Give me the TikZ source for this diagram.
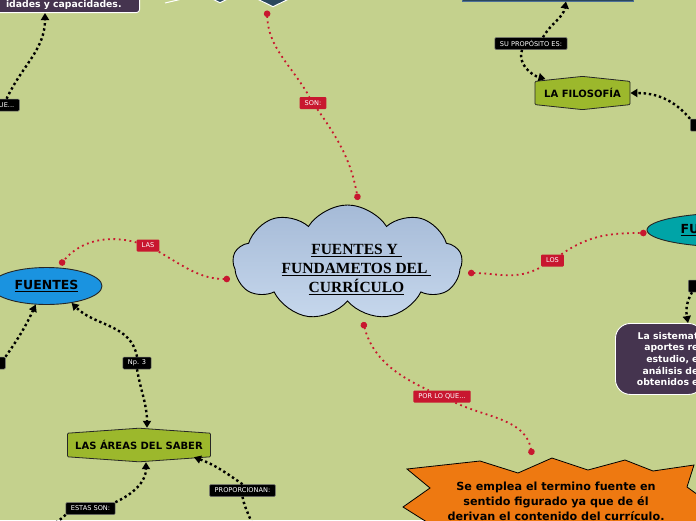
\documentclass[tikz,border=0pt]{standalone}
\usepackage{fontspec}
\setmainfont{Liberation Serif}
\setsansfont{DejaVu Sans}
\usepackage{tikz}
\usetikzlibrary{arrows.meta,calc,shapes.geometric,shapes.symbols}
\definecolor{paper}{HTML}{C4D18D}
\definecolor{crimson}{HTML}{C8172F}
\definecolor{plum}{HTML}{45344F}
\definecolor{olive}{HTML}{9CB82C}
\definecolor{slate}{HTML}{2A475D}
\definecolor{slateline}{HTML}{4C6E96}
\definecolor{sky}{HTML}{1A93E0}
\definecolor{tealish}{HTML}{00A4A7}
\definecolor{orangish}{HTML}{EE7911}
\definecolor{cloudtop}{HTML}{A5BAD7}
\definecolor{cloudbot}{HTML}{C6D7EC}
\tikzset{
  tag/.style={rounded corners=1pt,inner xsep=5pt,inner ysep=0pt,minimum height=12pt,text=white,font=\sffamily\fontsize{6.6}{7}\selectfont},
  blacktag/.style={tag,fill=black,draw=black!55,line width=.5pt},
  redtag/.style={tag,fill=crimson},
  hexnode/.style={signal,signal to=north and south,signal pointer angle=172,draw=black!85,fill=olive,line width=.8pt,rounded corners=1pt,font=\sffamily\bfseries\fontsize{10}{12}\selectfont},
  bubble/.style={fill=plum,draw=white,line width=.9pt,text=white,font=\sffamily\bfseries\fontsize{9.3}{11.7}\selectfont},
  oval/.style={ellipse,draw=black!85,line width=.9pt,font=\sffamily\bfseries\fontsize{12.5}{14}\selectfont},
  gem/.style={diamond,fill=slate,draw=white,line width=1pt,inner sep=0pt},
  link/.style={line width=2.4pt,dash pattern=on 2.4pt off 2.8pt,-{Triangle[length=7pt,width=8pt]}},
  redlink/.style={crimson,line width=1.8pt,dash pattern=on 1.8pt off 3.6pt},
  dotstart/.style={redlink,{Circle[length=6.5pt]}-},
  dotend/.style={redlink,-{Circle[length=6.5pt]}},
}

\begin{document}
\begin{tikzpicture}[x=1pt,y=1pt]
  \useasboundingbox (0,0) rectangle (696,-520);
  \clip (0,0) rectangle (696,-520);
  \fill[paper] (0,0) rectangle (696,-520);
  \draw[white,line width=1pt] (165,-3) -- (182,1);
  \node[gem,minimum width=120pt,minimum height=60pt] (gemb) at (220,27) {};
  \node[gem,minimum width=120pt,minimum height=60pt] (gema) at (273,23) {};
  \node[fill=slate,draw=slateline,line width=1pt,anchor=south,minimum width=171pt,minimum height=40pt] (fin) at (548,-1.5) {};
  \node[bubble,rounded corners=3pt,anchor=south east,inner xsep=18pt,inner ysep=3pt,text height=30pt,text depth=2pt] (habil) at (140,-13) {idades y capacidades.};

  \node[cloud,cloud puffs=9,cloud puff arc=115,cloud ignores aspect,draw=black,line width=.9pt,top color=cloudtop,bottom color=cloudbot,minimum width=229pt,minimum height=115pt,
    label={[font=\bfseries\fontsize{15.5}{19}\selectfont,align=center,xshift=9pt,yshift=-7pt]center:{\underline{FUENTES Y\ }\\\underline{FUNDAMETOS DEL\ }\\\underline{CURRÍCULO}}}] (cur) at (347.5,-262.5) {};

  \node[oval,fill=sky,minimum width=111pt,minimum height=37pt] (fuentes) at (46.5,-286) {\underline{FUENTES}};
  \node[oval,fill=tealish,minimum width=170pt,minimum height=34pt] (fund) at (732,-230) {\underline{FU}\rule{84pt}{0pt}};
  \node[hexnode,minimum width=143pt,minimum height=33pt] (areas) at (139,-445) {LAS ÁREAS DEL SABER};
  \node[hexnode,minimum width=95pt,minimum height=32pt,signal pointer angle=168] (filo) at (582.5,-93) {LA FILOSOFÍA};
  \node[bubble,rounded corners=15pt,anchor=north west,align=right,text width=78pt,inner xsep=5pt,minimum height=71pt] (sistem) at (615,-323) {La sistemat\\aportes re\\estudio, e\\análisis de\\obtenidos e};

  \filldraw[fill=orangish,draw=black,line width=.8pt] (407,-469) -- (480,-461) -- (518,-473) -- (552,-458) -- (588,-470) -- (625,-460) -- (653,-471) -- (694,-465) -- (687,-487) -- (705,-500) -- (705,-540) -- (430,-540) -- (430,-524) -- (403,-507) -- (430,-488) -- cycle;
  \node[font=\sffamily\bfseries\fontsize{11.2}{15}\selectfont,align=center] (emplea) at (556,-501.5) {Se emplea el termino fuente en\\sentido figurado ya que de él\\derivan el contenido del currículo.};
  \coordinate (burst) at (532,-455);
  \coordinate (offa) at (45,-534);
  \coordinate (offb) at (254,-534);

  \node[redtag] (son) at (313,-103) {SON:};
  \node[redtag] (las) at (148,-245.5) {LAS};
  \node[redtag] (los) at (552.5,-260.5) {LOS};
  \node[redtag] (porlo) at (442,-396.5) {POR LO QUE...};
  \node[blacktag,anchor=east] (que) at (19.5,-105) {UE...};
  \node[blacktag,anchor=east,minimum width=20pt] (otro) at (5.5,-363) {};
  \node[blacktag] (np3) at (137,-363) {Np. 3};
  \node[blacktag] (estas) at (90.5,-508.5) {ESTAS SON:};
  \node[blacktag] (propor) at (242.5,-490.5) {PROPORCIONAN:};
  \node[blacktag] (suprop) at (531,-43.5) {SU PROPÓSITO ES:};
  \node[blacktag,anchor=west,minimum width=14pt] (rfilo) at (690,-125) {};
  \node[blacktag,anchor=west,minimum width=14pt] (rsis) at (688,-286) {};

  \draw[dotstart] ([xshift=-6pt,yshift=-3pt]gema.south) to[out=-88,in=120] (son);
  \draw[dotend] (son) to[out=-55,in=100] ($(cur.center)+(10.5,62.5)$);
  \draw[dotstart] ($(cur.center)+(-117.5,-16.5)$) to[out=180,in=-30] (las);
  \draw[dotend] (las) to[out=165,in=50] ($(fuentes.center)+(13.5,21)$);
  \draw[dotstart] ($(cur.center)+(120.5,-10.5)$) to[out=0,in=-150] (los);
  \draw[dotend] (los) to[out=35,in=180] ([yshift=-3pt]fund.west);
  \draw[dotstart] ($(cur.center)+(15.5,-59.5)$) to[out=-75,in=155] (porlo);
  \draw[dotend] (porlo) to[out=-25,in=100] (burst);

  \draw[link] (que.north) to[out=65,in=-90] ([xshift=-95pt]habil.south east);
  \draw[link] (otro.north east) to[out=55,in=-115] (fuentes.-120);
  \draw[link] (np3.north) to[out=100,in=-45] (fuentes.-34);
  \draw[link] (np3.south) to[out=-80,in=90] ([xshift=8pt]areas.north);
  \draw[link] (estas.north east) to[out=25,in=-90] ([xshift=7pt]areas.south);
  \draw[link,-] (estas.south west) to[out=-135,in=60] (offa);
  \draw[link] (propor.north) to[out=145,in=-20] ([xshift=-17pt]areas.south east);
  \draw[link,-] (propor.south) to[out=-80,in=95] (offb);
  \draw[link] ([xshift=12pt]suprop.north) to[out=60,in=-100] ([xshift=18pt]fin.south);
  \draw[link] ([xshift=-9pt]suprop.south) to[out=-110,in=165] ([xshift=-37pt,yshift=-3pt]filo.north);
  \draw[link] (rfilo.north west) to[out=130,in=0] (filo.east);
  \draw[link] ([xshift=4pt]rsis.south west) to[out=-120,in=100] ([xshift=73pt]sistem.north west);
\end{tikzpicture}
\end{document}
